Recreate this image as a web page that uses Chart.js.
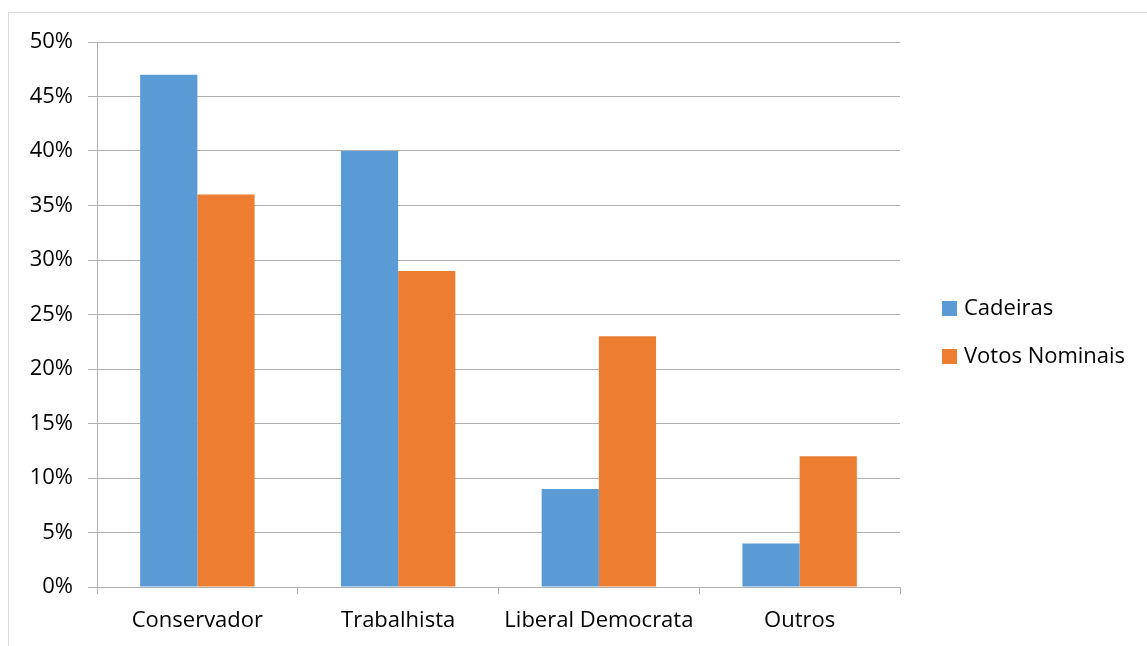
<!DOCTYPE html>
<html>
<head>
<meta charset="utf-8">
<script src="https://cdn.jsdelivr.net/npm/chart.js@4.4.0/dist/chart.umd.min.js"></script>
<style>
  html, body { margin: 0; padding: 0; background: #fff; overflow: hidden; }
  #frame { position: absolute; left: 8px; top: 12px; width: 1200px; height: 700px; border: 1px solid #d9d9d9; }
  #wrap { position: absolute; left: 0; top: 0; width: 1147px; height: 646px; }
</style>
</head>
<body>
<div id="frame"></div>
<div id="wrap"><canvas id="chart"></canvas></div>
<script>
// data
const partidos = ['Conservador', 'Trabalhista', 'Liberal Democrata', 'Outros'];
const cadeiras = [47, 40, 9, 4];
const votosNominais = [36, 29, 23, 12];
const seriesNames = ['Cadeiras', 'Votos Nominais'];
const seriesColors = ['#5b9bd5', '#ed7d31'];

const fontFamily = '"Open Sans", "Liberation Sans", sans-serif';
const gridColor = '#b0b0b0';

// legend drawn at the right, like the original
const sideLegend = {
  id: 'sideLegend',
  afterDraw(chart) {
    const ctx = chart.ctx;
    ctx.save();
    ctx.font = '22px ' + fontFamily;
    ctx.textBaseline = 'middle';
    chart.data.datasets.forEach((ds, i) => {
      const y = 308 + i * 48;
      ctx.fillStyle = ds.backgroundColor;
      ctx.fillRect(942, y - 7, 15, 15);
      ctx.fillStyle = '#000';
      ctx.fillText(ds.label, 964, y + 1);
    });
    ctx.restore();
  }
};

new Chart(document.getElementById('chart'), {
  type: 'bar',
  data: {
    labels: partidos,
    datasets: [
      { label: seriesNames[0], data: cadeiras, backgroundColor: seriesColors[0] },
      { label: seriesNames[1], data: votosNominais, backgroundColor: seriesColors[1] }
    ]
  },
  options: {
    responsive: true,
    maintainAspectRatio: false,
    animation: false,
    datasets: { bar: { categoryPercentage: 0.57, barPercentage: 1.0, borderWidth: 0 } },
    layout: { padding: { top: 42, right: 247, bottom: 0, left: 0 } },
    plugins: {
      legend: { display: false },
      tooltip: { enabled: false }
    },
    scales: {
      x: {
        grid: { display: true, drawOnChartArea: false, offset: true, tickLength: 7, color: gridColor },
        border: { display: true, color: gridColor, width: 1 },
        ticks: {
          color: '#000',
          font: { family: fontFamily, size: 22 },
          padding: 14,
          maxRotation: 0,
          minRotation: 0,
          autoSkip: false
        },
        afterFit(scale) { scale.height = 59; }
      },
      y: {
        min: 0,
        max: 50,
        ticks: {
          stepSize: 5,
          color: '#000',
          font: { family: fontFamily, size: 22 },
          padding: 15,
          callback: v => v + '%'
        },
        grid: { color: gridColor, tickLength: 9 },
        border: { display: true, color: gridColor, width: 1 },
        afterFit(scale) { scale.width = 97; }
      }
    }
  },
  plugins: [sideLegend]
});
</script>
</body>
</html>
